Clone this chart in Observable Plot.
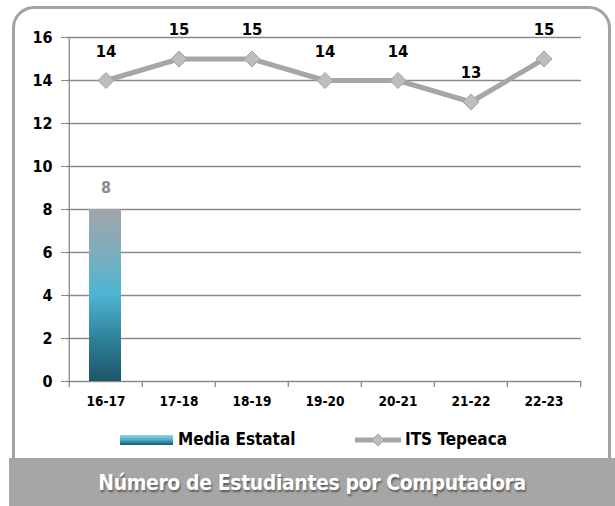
<!DOCTYPE html>
<html><head><meta charset="utf-8">
<script src="https://cdn.jsdelivr.net/npm/d3@7"></script>
<script src="https://cdn.jsdelivr.net/npm/@observablehq/plot@0.6"></script>
<style>
body{margin:0;background:#fff;font-family:"Liberation Sans Narrow","DejaVu Sans Condensed",sans-serif;}
#wrap{position:relative;width:615px;height:506px;overflow:hidden;}
#frame{position:absolute;left:12px;top:6px;width:593px;height:540px;border:3px solid #a3a3a3;border-radius:22px;z-index:1;pointer-events:none;}
#chart{position:absolute;left:0;top:0;}
#legend{position:absolute;left:0;top:420px;width:615px;height:38px;font-weight:bold;font-size:17px;color:#000;}
#band{position:absolute;left:9px;top:458px;width:606px;height:48px;background:#a6a6a6;z-index:2;color:#fff;font-weight:bold;font-size:21px;letter-spacing:-0.4px;text-align:center;line-height:50px;text-shadow:1px 2px 2px rgba(0,0,0,0.45);}
</style></head>
<body>
<div id="wrap">
  <div id="chart"></div>
  <div id="legend"></div>
  <div id="frame"></div>
  <div id="band"></div>
</div>
<script>
const years = ["16-17","17-18","18-19","19-20","20-21","21-22","22-23"];
const mediaEstatal = [8, null, null, null, null, null, null];
const itsTepeaca = [14, 15, 15, 14, 14, 13, 15];
const yTicks = [0, 2, 4, 6, 8, 10, 12, 14, 16];
const seriesNames = ["Media Estatal", "ITS Tepeaca"];
const title = "Número de Estudiantes por Computadora";

const font = '"Liberation Sans Narrow","DejaVu Sans Condensed",sans-serif';
const barData = years.map((y, i) => ({year: y, value: mediaEstatal[i]})).filter(d => d.value != null);
const lineData = years.map((y, i) => ({year: y, value: itsTepeaca[i]}));

const W = 615, H = 420, mL = 67, mR = 34, mT = 37, mB = 39;
const bw = (W - mL - mR) / years.length;

const defs = () => {
  const d = d3.create("svg:defs");
  const g = d.append("linearGradient").attr("id", "barGrad").attr("x1", 0).attr("y1", 0).attr("x2", 0).attr("y2", 1);
  [["0%", "#a0a5a7"], ["25%", "#7eaebe"], ["50%", "#4cb4d2"], ["75%", "#2f8299"], ["100%", "#1d5567"]]
    .forEach(([o, c]) => g.append("stop").attr("offset", o).attr("stop-color", c));
  const f = d.append("filter").attr("id", "shadow").attr("x", "-20%").attr("y", "-40%").attr("width", "140%").attr("height", "180%");
  f.append("feDropShadow").attr("dx", 2).attr("dy", 4).attr("stdDeviation", 2.5).attr("flood-color", "#000").attr("flood-opacity", 0.35);
  return d.node();
};

const chart = Plot.plot({
  width: W, height: H,
  marginLeft: mL, marginRight: mR, marginTop: mT, marginBottom: mB,
  style: {background: "transparent", fontFamily: font},
  x: {type: "band", domain: years, padding: 0, axis: null, label: null},
  y: {domain: [0, 16], axis: null, label: null},
  marks: [
    defs,
    Plot.ruleY(yTicks, {stroke: "#8a8a8a", strokeWidth: 1.3}),
    Plot.ruleX([0], {x: () => years[0], dx: -bw / 2, y1: 0, y2: 16, stroke: "#8a8a8a", strokeWidth: 1.3}),
    Plot.ruleX(years, {x: d => d, dx: -bw / 2, y1: 0, y2: 0, insetBottom: -6, stroke: "#8a8a8a", strokeWidth: 1.3}),
    Plot.ruleX([years[years.length - 1]], {x: d => d, dx: bw / 2, y1: 0, y2: 0, insetBottom: -6, stroke: "#8a8a8a", strokeWidth: 1.3}),
    Plot.axisY(yTicks, {tickSize: 6, tickPadding: 9, stroke: "#8a8a8a", fill: "#000", fontSize: 16, fontWeight: "bold", label: null}),
    Plot.axisX({tickSize: 0, tickPadding: 15, fill: "#000", fontSize: 13.5, fontWeight: "bold", label: null}),
    Plot.barY(barData, {x: "year", y: "value", fill: "url(#barGrad)", insetLeft: 20, insetRight: 21}),
    Plot.text(barData, {x: "year", y: "value", text: d => String(d.value), dy: -22, fill: "#8c8c8c", fontSize: 16, fontWeight: "bold"}),
    Plot.line(lineData, {x: "year", y: "value", stroke: "#a6a6a6", strokeWidth: 5, style: {filter: "url(#shadow)"}}),
    Plot.dot(lineData, {x: "year", y: "value", symbol: "diamond2", r: 7.2, fill: "#bdbdbd", stroke: "#a3a3a3", strokeWidth: 1}),
    Plot.text(lineData, {x: "year", y: "value", text: d => String(d.value), dy: -29, fill: "#000", fontSize: 16.5, fontWeight: "bold"})
  ]
});
document.getElementById("chart").appendChild(chart);

const legend = document.getElementById("legend");
legend.innerHTML = `
  <div style="position:absolute;left:120px;top:15px;width:53px;height:10px;background:linear-gradient(#9ad2e2,#4cb4d2 45%,#1d5567);"></div>
  <span style="position:absolute;left:178px;top:9px;line-height:20px;">${seriesNames[0]}</span>
  <svg style="position:absolute;left:354px;top:12px;" width="48" height="16">
    <line x1="1" y1="8" x2="47" y2="8" stroke="#a6a6a6" stroke-width="5"/>
    <path d="M24 2 L30 8 L24 14 L18 8 Z" fill="#bdbdbd" stroke="#a3a3a3"/>
  </svg>
  <span style="position:absolute;left:405px;top:9px;line-height:20px;">${seriesNames[1]}</span>`;
document.getElementById("band").textContent = title;
</script>
</body></html>
